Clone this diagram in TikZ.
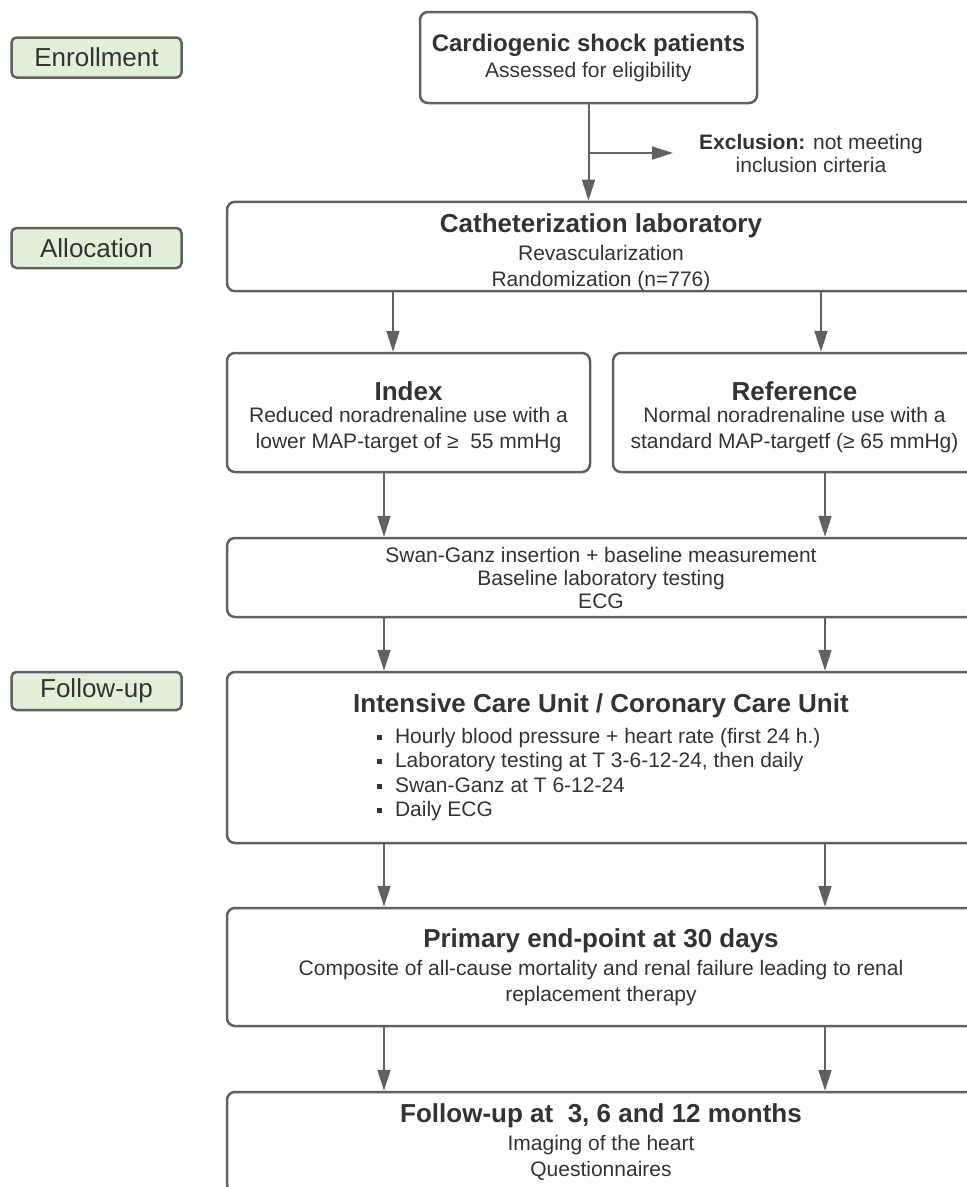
\documentclass[tikz,border=0pt]{standalone}
\usepackage{fontspec}
\setmainfont{Liberation Sans}
\usetikzlibrary{arrows.meta}
\definecolor{linegray}{HTML}{616161}
\definecolor{textgray}{HTML}{333333}
\definecolor{phasegreen}{HTML}{E2F0D9}
\newcommand{\bodyfont}{\fontsize{21}{26}\selectfont}
\newcommand{\ttl}{\fontsize{26}{30}\selectfont\bfseries}
\newcommand{\sqitem}[1]{\makebox[448pt][l]{\rule[0.3ex]{5pt}{5pt}\hspace{13pt}#1}}
\tikzset{
	block/.style     = {draw=linegray, line width=2.5pt, rounded corners=8pt, rectangle,
		align=center, text=textgray, font=\bodyfont},
	wideblock/.style = {block, minimum width=748pt},
	halfblock/.style = {block, minimum width=363pt, minimum height=119pt},
	phase/.style     = {draw=linegray, fill=phasegreen, line width=2.5pt, rounded corners=5pt,
		minimum width=170pt, minimum height=40pt, text=textgray,
		font=\fontsize{26}{30}\selectfont},
	flow/.style      = {draw=linegray, line width=2pt, -{Triangle[width=13pt,length=21pt]}}
}

\begin{document}
\begin{tikzpicture}[x=1pt, y=-1pt]
	\clip (0,0) rectangle (967,1187);
	\useasboundingbox (0,0) rectangle (967,1187);
	% phases
	\draw
	node at (96.5,57.5)[phase] (enroll) {Enrollment}
	node at (96.5,248)[phase] (alloc) {Allocation}
	node at (96.5,691)[phase, minimum height=38pt] (fup) {Follow-up};
	% flow boxes
	\draw
	node at (588.5,57.5)[block, minimum width=337pt, minimum height=91pt] (shock)
		{{\fontsize{24}{28}\selectfont\bfseries Cardiogenic shock patients}\\Assessed for eligibility}
	node at (811,153)[text=textgray, align=center, font=\fontsize{21}{23}\selectfont] (excl)
		{\textbf{Exclusion:} not meeting\\inclusion cirteria}
	node at (601,246.5)[wideblock, minimum height=87pt, inner ysep=0pt] (cath)
		{{\ttl\rule{0pt}{31pt}Catheterization laboratory}\\[2pt]Revascularization\\Randomization (n=776)}
	node at (408.5,412.5)[halfblock] (index)
		{{\ttl\rule{0pt}{29pt}Index}\\[-4pt]Reduced noradrenaline use with a\\lower MAP-target of ≥\ \ 55 mmHg}
	node at (794.5,412.5)[halfblock] (ref)
		{{\ttl\rule{0pt}{29pt}Reference}\\[-4pt]Normal noradrenaline use with a\\standard MAP-targetf (≥ 65 mmHg)}
	node at (601,577.5)[wideblock, minimum height=79pt, font=\fontsize{21}{23}\selectfont] (swan)
		{Swan-Ganz insertion + baseline measurement\\Baseline laboratory testing\\ECG}
	node at (601,757.5)[wideblock, minimum height=171pt, font=\fontsize{21}{24.5}\selectfont] (icu)
		{{\ttl Intensive Care Unit / Coronary Care Unit}\\[6pt]
		\sqitem{Hourly blood pressure + heart rate (first 24 h.)}\\
		\sqitem{Laboratory testing at T 3-6-12-24, then daily}\\
		\sqitem{Swan-Ganz at T 6-12-24}\\
		\sqitem{Daily ECG}}
	node at (601,967)[wideblock, minimum height=118pt] (primary)
		{{\ttl Primary end-point at 30 days}\\[2pt]Composite of all-cause mortality and renal failure leading to renal\\replacement therapy}
	node at (601,1142)[wideblock, minimum height=100pt] (months)
		{{\ttl Follow-up at\ \ 3, 6 and 12 months}\\[2pt]Imaging of the heart\\Questionnaires};

	\coordinate (exend) at (673,153);
	\coordinate (colA) at (393,0);
	\coordinate (colB) at (821,0);
	\coordinate (colL) at (384,0);
	\coordinate (colR) at (825,0);

	\draw[flow] (shock.south) -- (shock.south |- cath.north);
	\draw[flow] (shock.south |- excl) -- (exend);
	\draw[flow] (cath.south -| colA) -- (index.north -| colA);
	\draw[flow] (cath.south -| colB) -- (ref.north -| colB);
	\draw[flow] (index.south -| colL) -- (swan.north -| colL);
	\draw[flow] (ref.south -| colR) -- (swan.north -| colR);
	\draw[flow] (swan.south -| colL) -- (icu.north -| colL);
	\draw[flow] (swan.south -| colR) -- (icu.north -| colR);
	\draw[flow] (icu.south -| colL) -- (primary.north -| colL);
	\draw[flow] (icu.south -| colR) -- (primary.north -| colR);
	\draw[flow] (primary.south -| colL) -- (months.north -| colL);
	\draw[flow] (primary.south -| colR) -- (months.north -| colR);
\end{tikzpicture}
\end{document}
